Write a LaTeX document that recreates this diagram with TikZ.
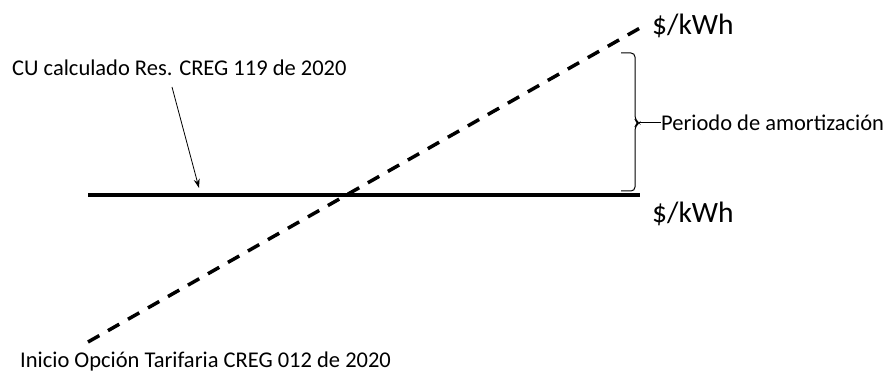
\documentclass[tikz,border=0pt]{standalone}
\usepackage{fontspec}
\setmainfont{Carlito}
\usetikzlibrary{arrows.meta, positioning}

\begin{document}
\begin{tikzpicture}[
  x=1pt, y=-1pt,
  lbl/.style={anchor=west, inner sep=0pt, font=\fontsize{22.5}{26}\selectfont},
  unit/.style={anchor=west, inner sep=0pt, font=\fontsize{29.5}{33}\selectfont},
  culine/.style={line width=3.5pt},
  optline/.style={line width=3.5pt, dash pattern=on 13pt off 10pt},
  arr/.style={-{Stealth[length=9pt, width=6pt]}, line width=0.8pt},
  brc/.style={line width=1pt, rounded corners=4pt},
]
\useasboundingbox (0,0) rectangle (895,377);
% ends of the two curves
\coordinate (cuL) at (88,195);
\coordinate (cuR) at (640,195);
\coordinate (otL) at (88,342);
\coordinate (otR) at (640,28);
\draw[culine] (cuL) -- (cuR);
\draw[optline] (otL) -- (otR);
% texts
\node[unit] (kwhTop) at (652,26) {\$/kWh};
\node[unit] (kwhBot) at (652,214) {\$/kWh};
\node[lbl] (cuTxt) at (12,68) {CU calculado Res. CREG 119 de 2020};
\node[lbl] (otTxt) at (20,362) {Inicio Opción Tarifaria CREG 012 de 2020};
\node[lbl] (perTxt) at (661,123) {Periodo de amortización};
% arrow and brace
\coordinate (arrS) at (172,87);
\coordinate (arrE) at (199,188);
\draw[arr] (arrS) -- (arrE);
\coordinate (brT) at (621,53);
\coordinate (brB) at (621,191);
\coordinate (brTip) at (639,123);
\draw[brc] (brT) -- (635,53) -- (635,120) -- (brTip) -- (635,126) -- (635,191) -- (brB);
\draw[line width=1pt] (brTip) -- (perTxt.west);
\end{tikzpicture}
\end{document}
